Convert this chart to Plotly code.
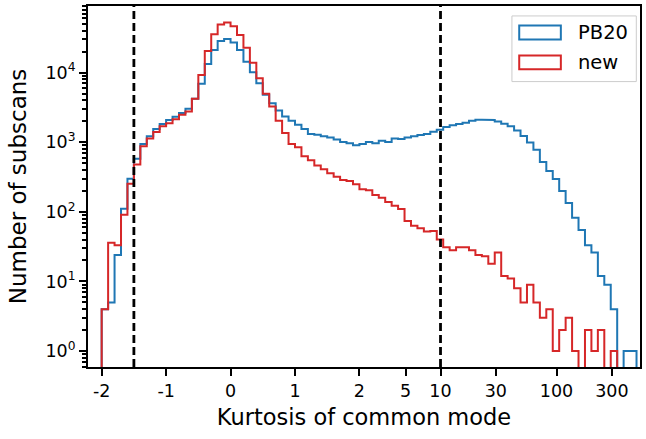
import numpy as np
import plotly.graph_objects as go

# ---------------- data ----------------
TICK_VALUES = [-2, -1, 0, 1, 2, 5, 10, 30, 100, 300]
TICK_LABELS = ["-2", "-1", "0", "1", "2", "5", "10", "30", "100", "300"]
CUT_LINES = [-1.5, 10]
Y_TICK_VALUES = [1, 10, 100, 1000, 10000]
Y_TICK_LABELS = ["10<sup>0</sup>", "10<sup>1</sup>", "10<sup>2</sup>", "10<sup>3</sup>", "10<sup>4</sup>"]

PB20_COUNTS = [
    4, 5, 24, 111, 299, 577, 946, 1218, 1549, 1824,
    2084, 2330, 2623, 3030, 4211, 6900, 13300, 21100, 28400, 30300,
    27100, 21100, 14350, 10100, 7030, 4800, 3640, 2850, 2350, 2040,
    1790, 1550, 1315, 1280, 1218, 1170, 1094, 1010, 970, 906,
    946, 1010, 970, 1050, 1010, 1130, 1110, 1170, 1218, 1265,
    1315, 1420, 1510, 1650, 1750, 1825, 1900, 2030, 2110, 2110,
    2080, 1977, 1850, 1693, 1480, 1230, 990, 780, 520, 385,
    296, 200, 134, 82, 55, 33, 26, 12, 9, 4,
    0, 1, 1, 0,
]
NEW_COUNTS = [
    4, 36, 33, 91, 254, 480, 877, 1130, 1403, 1693,
    1868, 2131, 2487, 2773, 4211, 9270, 20400, 35700, 49000, 52300,
    46400, 34600, 22800, 13900, 8300, 4960, 3270, 2040, 1358, 946,
    849, 631, 553, 464, 408, 357, 319, 287, 277, 249,
    211, 205, 175, 160, 139, 122, 110, 74, 63, 58,
    52, 53, 40, 31, 28, 31, 31, 28, 24, 23,
    18, 26, 12, 11, 8, 5, 9, 5, 3, 4,
    1, 2, 3, 1, 0, 2, 1, 2, 0, 1,
    0, 0, 0, 0,
]

# ---------------- symlog scale (linthresh=2, linscale=1) ----------------
LINTHRESH = 2.0
ADJ = 1.0 / (1 - 1 / 10.0)


def fwd(x):
    x = np.asarray(x, dtype=float)
    a = np.abs(x)
    out = np.where(a <= LINTHRESH, x * ADJ,
                   np.sign(x) * LINTHRESH * (ADJ + np.log10(np.maximum(a, 1e-12) / LINTHRESH)))
    return out


def inv(u):
    u = np.asarray(u, dtype=float)
    a = np.abs(u)
    lim = LINTHRESH * ADJ
    return np.where(a <= lim, u / ADJ,
                    np.sign(u) * LINTHRESH * 10 ** (a / LINTHRESH - ADJ))


# bins uniform in the transformed coordinate, starting at kurtosis -2, width 0.1 in the linear part
n_bins = len(PB20_COUNTS)
u0 = float(fwd(-2.0))
du = float(fwd(2.0) - fwd(-2.0)) / 40
BIN_EDGES = inv(u0 + du * np.arange(n_bins + 1))   # kurtosis values of bin edges
U_EDGES = fwd(BIN_EDGES)

FLOOR = 1e-3


def step_path(counts):
    xs = [U_EDGES[0]]
    ys = [FLOOR]
    for i, c in enumerate(counts):
        v = c if c > 0 else FLOOR
        xs += [U_EDGES[i], U_EDGES[i + 1]]
        ys += [v, v]
    xs.append(U_EDGES[-1])
    ys.append(FLOOR)
    return xs, ys


BLUE = "#1f77b4"
RED = "#d62728"

fig = go.Figure()
for counts, color, name in [(PB20_COUNTS, BLUE, "PB20"), (NEW_COUNTS, RED, "new")]:
    xs, ys = step_path(counts)
    fig.add_trace(go.Scatter(x=xs, y=ys, mode="lines", name=name,
                             line=dict(color=color, width=2), showlegend=False,
                             hoverinfo="skip"))

W, H = 646, 439
L, R, T, B = 88, 5, 4, 72
pw, ph = W - L - R, H - T - B


def px_x(p):
    return (p - L) / pw


def px_y(p):
    return 1 - (p - T) / ph


shapes = []
for c in CUT_LINES:
    shapes.append(dict(type="line", xref="x", yref="paper", x0=float(fwd(c)), x1=float(fwd(c)),
                       y0=0, y1=1, line=dict(color="black", width=2.8, dash="8px,4px"),
                       layer="above"))

# legend box
lx0, lx1, ly0, ly1 = 512.7, 637.3, 14, 80
shapes.append(dict(type="rect", xref="paper", yref="paper",
                   x0=px_x(lx0), x1=px_x(lx1), y0=px_y(ly1), y1=px_y(ly0),
                   line=dict(color="#cccccc", width=1), fillcolor="rgba(255,255,255,0.8)",
                   layer="above"))
annotations = []
for (name, color, yc) in [("PB20", BLUE, 30.7), ("new", RED, 60.7)]:
    shapes.append(dict(type="rect", xref="paper", yref="paper",
                       x0=px_x(520), x1=px_x(561.7), y0=px_y(yc + 7), y1=px_y(yc - 7),
                       line=dict(color=color, width=2), fillcolor="rgba(0,0,0,0)",
                       layer="above"))
    annotations.append(dict(xref="paper", yref="paper", x=px_x(577), y=px_y(yc),
                            text=name, showarrow=False, xanchor="left", yanchor="middle",
                            font=dict(size=19.5, color="black", family="DejaVu Sans")))

minor_vals = [k * 10 ** d for d in range(-1, 5) for k in range(2, 10)]

fig.update_layout(
    width=W, height=H,
    margin=dict(l=L, r=R, t=T, b=B),
    paper_bgcolor="white", plot_bgcolor="white",
    font=dict(family="DejaVu Sans", color="black"),
    shapes=shapes, annotations=annotations,
    showlegend=False,
    xaxis=dict(
        range=[-2.458, 7.06],
        tickmode="array", tickvals=[float(v) for v in fwd(TICK_VALUES)], ticktext=TICK_LABELS,
        ticks="outside", ticklen=7, tickwidth=2, tickcolor="black",
        showline=True, linewidth=2, linecolor="black", mirror=True,
        showgrid=False, zeroline=False,
        tickfont=dict(size=17.5, color="black"),
        title=dict(text="Kurtosis of common mode", font=dict(size=22.5, color="black"), standoff=9),
    ),
    yaxis=dict(
        type="log", range=[-0.229, 4.957],
        tickmode="array", tickvals=Y_TICK_VALUES, ticktext=Y_TICK_LABELS,
        ticks="outside", ticklen=7, tickwidth=2, tickcolor="black",
        minor=dict(tickmode="array", tickvals=minor_vals, ticks="outside", ticklen=4,
                   tickwidth=1.5, tickcolor="black", showgrid=False),
        showline=True, linewidth=2, linecolor="black", mirror=True,
        showgrid=False, zeroline=False,
        tickfont=dict(size=17.5, color="black"),
        title=dict(text="Number of subscans", font=dict(size=23, color="black"), standoff=12),
    ),
)

fig.write_html("out.html")
